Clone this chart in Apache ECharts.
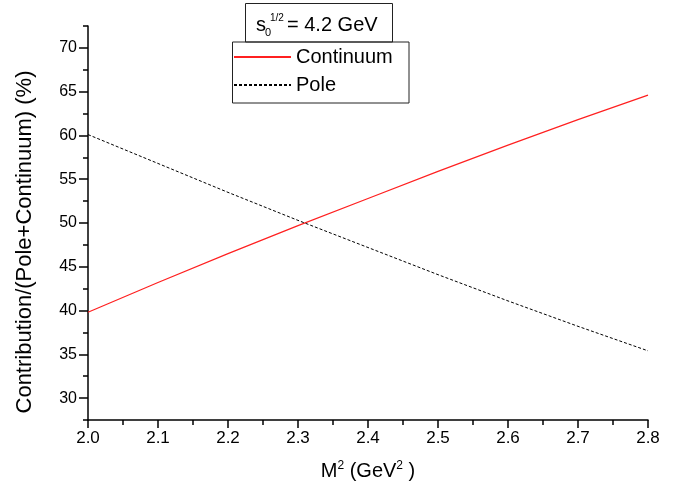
<!DOCTYPE html>
<html>
<head>
<meta charset="utf-8">
<script src="https://cdn.jsdelivr.net/npm/echarts@6/dist/echarts.min.js"></script>
<style>
html,body{margin:0;padding:0;background:#fff;}
#chart{width:684px;height:495px;}
</style>
</head>
<body>
<div id="chart"></div>
<script>
// Data
const m2Values = [2.0, 2.1, 2.2, 2.3, 2.4, 2.5, 2.6, 2.7, 2.8];
const continuumValues = [39.8, 43.2, 46.5, 49.7, 52.8, 55.9, 58.9, 61.8, 64.6];
const poleValues = [60.1, 56.8, 53.5, 50.3, 47.2, 44.1, 41.1, 38.2, 35.4];
const yMajorTicks = [30, 35, 40, 45, 50, 55, 60, 65, 70];
const yMinorTicks = [27.5, 32.5, 37.5, 42.5, 47.5, 52.5, 57.5, 62.5, 67.5, 72.5];
const seriesNames = ['Continuum', 'Pole'];
const yTitle = 'Contribution/(Pole+Continuum) (%)';

const FONT = 'Liberation Sans, Arial, sans-serif';
const chart = echarts.init(document.getElementById('chart'), null, {renderer: 'canvas'});

const option = {
  backgroundColor: '#fff',
  animation: false,
  grid: {left: 88, right: 36, top: 26, bottom: 75},
  legend: {
    left: 232, top: 42, orient: 'vertical',
    padding: [5, 0, 0, 1],
    itemWidth: 57, itemHeight: 14, itemGap: 8,
    itemStyle: {opacity: 0},
    textStyle: {fontFamily: FONT, fontSize: 20, color: '#000', lineHeight: 20},
    data: seriesNames
  },
  xAxis: {
    type: 'value', min: 2.0, max: 2.8, interval: 0.1,
    axisLine: {show: true, lineStyle: {color: '#000', width: 1.5}},
    axisTick: {show: true, inside: false, length: 8, lineStyle: {color: '#000', width: 1.5}},
    minorTick: {show: true, splitNumber: 2, length: 5, lineStyle: {color: '#000', width: 1.5}},
    splitLine: {show: false},
    axisLabel: {fontFamily: FONT, fontSize: 17, color: '#000', margin: 10,
      formatter: v => v.toFixed(1)},
    name: 'M{sup|2} (GeV{sup|2} )',
    nameLocation: 'middle', nameGap: 40,
    nameTextStyle: {fontFamily: FONT, fontSize: 20, color: '#000',
      rich: {sup: {fontFamily: FONT, fontSize: 12, color: '#000', verticalAlign: 'top', padding: [0, 0, 10, 0]}}}
  },
  yAxis: [
    {
      type: 'value', min: 27.5, max: 72.5,
      axisLine: {show: true, lineStyle: {color: '#000', width: 1.5}},
      axisTick: {show: true, length: 9, customValues: yMajorTicks, lineStyle: {color: '#000', width: 1.5}},
      axisLabel: {fontFamily: FONT, fontSize: 16, color: '#000', margin: 11, customValues: yMajorTicks},
      splitLine: {show: false}
    },
    {
      type: 'value', min: 27.5, max: 72.5, position: 'left', offset: 0,
      axisLine: {show: false},
      axisTick: {show: true, length: 5, customValues: yMinorTicks, lineStyle: {color: '#000', width: 1.5}},
      axisLabel: {show: false},
      splitLine: {show: false}
    }
  ],
  series: [
    {
      name: seriesNames[0], type: 'line', yAxisIndex: 0,
      symbol: 'none', smooth: false,
      lineStyle: {color: '#ff2020', width: 1.2},
      itemStyle: {color: '#ff2020'},
      data: m2Values.map((x, i) => [x, continuumValues[i]])
    },
    {
      name: seriesNames[1], type: 'line', yAxisIndex: 0,
      symbol: 'none', smooth: false,
      lineStyle: {color: '#000', width: 1, type: [3, 2]},
      itemStyle: {color: '#000'},
      data: m2Values.map((x, i) => [x, poleValues[i]])
    }
  ],
  graphic: [
    {type: 'rect', shape: {x: 245.5, y: 3.5, width: 147, height: 38.5},
      style: {fill: '#fff', stroke: '#222', lineWidth: 1}, z: 10},
    {type: 'rect', shape: {x: 232.5, y: 42, width: 176.5, height: 61},
      style: {fill: 'none', stroke: '#222', lineWidth: 1}, z: 10},
    {type: 'text', x: 256, y: 25, z: 11,
      style: {text: 's', font: '20px ' + FONT, fill: '#000', verticalAlign: 'middle', align: 'left'}},
    {type: 'text', x: 265, y: 33, z: 11,
      style: {text: '0', font: '11px ' + FONT, fill: '#000', verticalAlign: 'middle', align: 'left'}},
    {type: 'text', x: 270, y: 18, z: 11,
      style: {text: '1/2', font: '10px ' + FONT, fill: '#000', verticalAlign: 'middle', align: 'left'}},
    {type: 'text', x: 287, y: 25, z: 11,
      style: {text: '= 4.2 GeV', font: '20px ' + FONT, fill: '#000', verticalAlign: 'middle', align: 'left'}},
    {type: 'text', x: 25, y: 242, rotation: Math.PI / 2, z: 11,
      style: {text: yTitle, font: '22px ' + FONT, fill: '#000', verticalAlign: 'middle', align: 'center'}}
  ]
};
chart.setOption(option);
</script>
</body>
</html>
